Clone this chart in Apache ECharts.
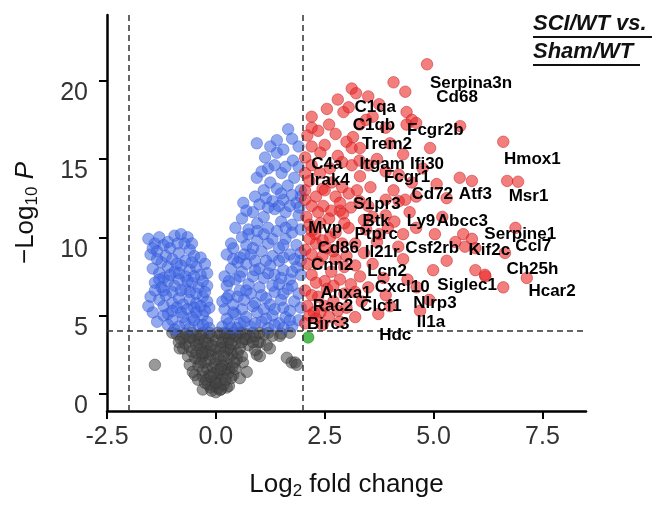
<!DOCTYPE html>
<html>
<head>
<meta charset="utf-8">
<script src="https://cdn.jsdelivr.net/npm/echarts@6/dist/echarts.min.js"></script>
<style>
  html, body { margin: 0; padding: 0; background: #fff; }
  #main { width: 662px; height: 505px; }
</style>
</head>
<body>
<div id="main"></div>
<script>
// volcano plot SCI/WT vs Sham/WT
const xTicks = [-2.5, 0, 2.5, 5, 7.5];
const yTicks = [0, 5, 10, 15, 20];
const fcCut = 2;     // log2 fold change cut
const pCut = 4;      // -log10 p cut

// not significant (grey)
const nsPoints = [
  [0, 0.1], [0.05, 0.35], [-0.05, 0.5], [0.1, 0.7], [-0.1, 0.8], [0.02, 1.0], [0.15, 1.1], [-0.15, 1.2],
  [0.2, 1.5], [-0.2, 1.6], [0.08, 1.3], [-0.08, 1.7], [0.25, 1.9], [-0.25, 2.0], [0.3, 2.3], [-0.3, 2.4],
  [0.12, 2.1], [-0.12, 2.5], [0.35, 2.8], [-0.35, 2.9], [0.45, 3.2], [-0.4, 3.3], [0.5, 3.6], [-0.45, 3.7],
  [0.2, 3.0], [-0.2, 3.2], [0.6, 3.9], [-0.55, 3.9], [0.4, 3.9], [-0.3, 3.9], [0.1, 3.8], [0.0, 3.4],
  [-0.05, 2.8], [0.05, 2.4], [-0.02, 1.9], [0.18, 3.5], [-0.18, 3.6], [0.28, 3.3], [-0.28, 3.0], [0.38, 2.5],
  [-0.38, 2.2], [0.22, 2.7], [-0.25, 2.6], [0.3, 1.6], [-0.3, 1.1], [0.4, 1.2], [0.25, 0.4], [-0.3, 0.27],
  [-0.48, 1.2], [-0.6, 1.85], [-0.64, 2.4], [-0.75, 2.9], [-0.83, 2.9], [-0.9, 3.8], [-0.64, 3.7], [-0.8, 3.5],
  [-0.7, 3.2], [-0.53, 1.4], [-0.41, 0.9], [-1.4, 1.85], [0.62, 2.0], [0.94, 2.5], [1.01, 3.3], [1.01, 2.4],
  [0.97, 3.3], [1.17, 3.1], [1.24, 2.9], [0.71, 1.4], [1.47, 3.7], [1.3, 3.7], [1.5, 3.85], [0.8, 3.6],
  [0.9, 2.8], [0.55, 1.0], [0.3, 0.5], [1.63, 2.3], [1.74, 2.0], [1.82, 2.0], [1.86, 1.85], [0.75, 3.1],
  [0.65, 3.5], [0.85, 3.9], [1.1, 3.8], [-0.5, 3.4], [-0.6, 3.0], [-0.45, 2.6], [0.48, 2.2], [0.55, 2.9],
  [0.12, 0.3], [-0.12, 0.4], [0.35, 1.0], [-0.22, 0.9], [0.15, 1.8], [-0.15, 2.2], [0.32, 3.7], [-0.38, 3.5],
  [-0.7, 3.85], [-1.0, 3.9], [0.7, 3.8], [1.2, 3.9], [1.7, 3.9], [0.05, 3.9], [-0.1, 3.7], [0.25, 3.85],
  [-0.1, 0.2], [0.1, 0.25], [0.18, 0.6], [-0.18, 0.6], [0.0, 0.7], [0.22, 0.9], [-0.25, 0.7], [0.05, 1.5],
  [-0.05, 1.3], [0.28, 1.3], [-0.3, 1.5], [0.38, 1.7], [-0.4, 1.8], [0.12, 1.6], [-0.12, 1.1], [0.45, 1.6],
  [-0.35, 2.0], [0.0, 2.2], [0.18, 2.4], [-0.18, 2.7], [0.42, 2.0], [-0.48, 2.3], [0.5, 2.6], [-0.55, 2.7],
  [0.28, 2.9], [-0.32, 2.6], [0.6, 2.4], [0.1, 2.9], [0.0, 3.0], [0.15, 3.3], [-0.1, 3.1], [0.3, 3.5],
  [-0.25, 3.4], [0.45, 3.7], [-0.45, 3.1], [0.6, 3.3], [-0.6, 3.6], [0.55, 3.9], [-0.15, 3.9], [0.7, 3.5],
  [-0.75, 3.6], [0.85, 3.3], [0.35, 3.2], [-0.35, 3.8], [0.9, 3.7], [1.0, 3.9], [-0.85, 3.3], [0.2, 3.9]
];

// p significant only (blue)
const pPoints = [
  // left arm
  [-1.55, 9.9], [-1.4, 9.6], [-1.3, 10.0], [-1.2, 9.5], [-0.95, 10.1], [-0.8, 10.2], [-0.65, 10.0], [-0.72, 9.6],
  [-1.05, 9.3], [-1.5, 8.9], [-1.35, 9.1], [-1.15, 8.8], [-1.0, 8.6], [-0.85, 9.0], [-0.6, 9.2], [-0.5, 8.8],
  [-0.7, 8.5], [-1.25, 8.4], [-1.45, 8.0], [-1.3, 7.7], [-1.1, 8.1], [-0.95, 7.8], [-0.8, 8.2], [-0.6, 7.9],
  [-0.45, 8.1], [-0.35, 7.6], [-0.7, 7.5], [-1.2, 7.4], [-0.25, 8.3], [-1.4, 7.1], [-1.25, 6.8], [-1.1, 7.2],
  [-0.95, 6.9], [-0.85, 7.3], [-0.7, 6.7], [-0.55, 7.1], [-0.4, 6.8], [-0.3, 7.2], [-0.2, 6.9], [-1.0, 6.5],
  [-0.6, 6.5], [-1.5, 6.2], [-1.3, 6.0], [-1.15, 6.3], [-1.0, 5.8], [-0.85, 6.1], [-0.75, 5.7], [-0.6, 6.0],
  [-0.45, 5.8], [-0.3, 6.2], [-0.2, 5.9], [-0.15, 5.5], [-0.9, 5.5], [-0.5, 5.5], [-1.35, 4.6], [-1.1, 5.1],
  [-1.0, 4.7], [-0.8, 5.2], [-0.7, 4.5], [-0.55, 4.9], [-0.4, 4.4], [-0.3, 5.0], [-0.2, 4.6], [-0.15, 4.2],
  [-0.6, 4.2], [-0.85, 4.3], [-1.2, 5.0], [-0.45, 5.2], [-1.55, 5.6],
  [-1.45, 9.3], [-1.1, 9.7], [-0.88, 9.6], [-0.55, 9.6], [-1.35, 8.6], [-0.9, 8.3], [-0.55, 8.4], [-0.35, 8.7],
  [-1.05, 7.6], [-0.85, 7.7], [-0.5, 7.5], [-0.2, 7.7], [-1.3, 7.3], [-0.65, 7.2], [-1.2, 6.6], [-0.8, 6.6],
  [-0.45, 6.4], [-0.25, 6.5], [-1.4, 6.6], [-1.2, 5.6], [-0.65, 5.4], [-0.35, 5.6], [-1.45, 5.2], [-1.0, 5.3],
  [-0.75, 4.9], [-0.5, 4.7], [-0.3, 4.4], [-1.1, 4.4], [-0.95, 4.1], [-0.25, 5.3],
  // right arm
  [0.15, 4.3], [0.25, 4.8], [0.35, 4.2], [0.45, 5.1], [0.55, 4.5], [0.7, 4.9], [0.8, 4.3], [0.95, 5.2],
  [1.05, 4.6], [1.2, 4.2], [1.3, 5.0], [1.45, 4.5], [1.6, 4.9], [1.75, 4.3], [1.9, 4.7], [0.2, 5.4],
  [0.6, 5.4], [1.1, 5.4], [1.55, 5.5], [0.15, 5.9], [0.3, 6.3], [0.4, 5.7], [0.55, 6.6], [0.65, 6.0],
  [0.8, 6.4], [0.9, 5.8], [1.0, 6.8], [1.15, 6.1], [1.25, 5.7], [1.35, 6.5], [1.5, 6.0], [1.65, 6.7],
  [1.8, 5.9], [1.9, 6.4], [0.25, 6.9], [0.75, 7.0], [1.45, 7.0], [0.2, 7.5], [0.35, 8.0], [0.45, 7.3],
  [0.6, 7.8], [0.7, 8.3], [0.85, 7.5], [1.0, 8.0], [1.1, 7.4], [1.25, 8.2], [1.35, 7.6], [1.55, 7.9],
  [1.7, 7.3], [1.85, 8.1], [1.95, 7.6], [0.5, 8.4], [1.45, 8.5], [0.25, 8.9], [0.4, 9.3], [0.55, 8.7],
  [0.7, 9.5], [0.8, 8.9], [0.95, 9.8], [1.05, 9.1], [1.2, 9.6], [1.3, 8.8], [1.45, 9.3], [1.6, 9.9],
  [1.7, 8.9], [1.85, 9.5], [1.95, 9.0], [0.6, 10.0], [1.1, 10.2], [1.75, 10.3], [0.45, 10.6], [0.6, 11.2],
  [0.75, 10.5], [0.85, 11.6], [0.95, 10.9], [1.1, 11.3], [1.2, 10.6], [1.35, 11.8], [1.5, 11.0], [1.6, 11.6],
  [1.75, 10.8], [1.9, 11.4], [1.3, 12.3], [0.63, 12.2], [1.0, 12.1], [1.55, 12.4], [1.85, 12.2], [0.94, 13.8],
  [1.1, 13.0], [1.25, 13.5], [1.51, 14.1], [1.4, 13.1], [1.65, 13.3], [1.8, 13.8], [1.95, 13.0], [1.13, 15.1],
  [1.4, 15.4], [1.77, 14.9], [0.94, 16.0], [1.4, 16.2], [1.66, 16.9], [1.9, 15.8], [1.2, 14.4], [1.9, 14.5],
  [1.95, 12.6], [1.95, 10.5], [1.92, 11.9], [1.95, 5.5], [1.95, 8.5],
  [0.3, 4.5], [0.5, 4.2], [0.65, 4.6], [0.9, 4.5], [1.15, 4.8], [1.35, 4.4], [1.55, 4.2], [1.7, 4.7],
  [0.4, 5.2], [0.85, 5.6], [1.35, 5.4], [1.7, 5.3], [0.25, 6.1], [0.5, 6.2], [0.7, 6.6], [1.05, 6.3],
  [1.3, 6.9], [1.55, 6.4], [1.75, 6.9], [0.3, 7.2], [0.55, 7.5], [0.9, 7.9], [1.2, 7.7], [1.5, 7.4],
  [1.75, 7.8], [0.4, 8.6], [0.65, 8.9], [0.9, 8.5], [1.15, 8.5], [1.55, 8.7], [1.8, 8.6], [0.35, 9.6],
  [0.85, 9.3], [1.3, 9.9], [1.55, 9.5], [0.75, 10.2], [0.95, 10.4], [1.4, 10.4], [1.6, 10.6], [0.7, 11.7],
  [1.2, 11.9], [1.45, 12.0], [1.7, 12.0], [0.9, 12.6], [1.15, 12.5], [1.5, 12.8], [1.75, 12.7], [1.05, 14.2],
  [1.35, 14.6], [1.6, 14.5], [1.25, 15.8], [1.55, 15.6], [1.75, 16.3]
];

// fold change only (green)
const fcPoints = [[2.12, 3.6]];

// p and fold change (red)
const bothPoints = [
  [4.85, 21.05], [4.08, 19.9], [4.35, 19.3], [3.12, 19.5], [3.22, 19.2], [3.5, 19.0], [2.93, 18.0], [3.05, 18.3],
  [2.2, 17.7], [2.2, 17.0], [3.6, 17.7], [4.38, 18.0], [4.5, 17.5], [4.38, 17.2], [4.6, 17.3], [3.3, 17.2],
  [3.45, 17.5], [5.61, 17.1], [2.2, 15.8], [2.5, 15.9], [3.0, 16.1], [3.12, 15.7], [3.31, 15.7], [3.15, 16.4],
  [4.92, 15.7], [6.6, 16.1], [6.69, 13.6], [6.94, 13.55], [5.6, 13.8], [5.88, 13.6], [5.07, 13.4], [2.62, 14.4],
  [3.12, 14.6], [3.5, 14.6], [3.31, 13.9], [2.05, 15.1], [2.05, 14.1], [2.39, 14.1], [2.05, 13.0], [2.66, 13.5],
  [3.24, 13.0], [4.08, 13.0], [4.35, 12.4], [3.7, 15.0], [3.9, 14.2], [2.8, 15.2], [2.9, 13.2], [3.55, 13.2],
  [4.2, 14.0], [4.5, 13.5], [2.05, 12.4], [2.3, 12.6], [2.47, 12.0], [2.85, 11.7], [2.92, 11.5], [2.08, 11.3],
  [2.6, 11.2], [3.1, 11.9], [3.3, 12.3], [3.9, 12.4], [2.28, 10.2], [2.62, 10.0], [2.05, 9.2], [2.3, 9.6],
  [2.45, 8.8], [2.1, 8.3], [2.75, 8.6], [3.0, 8.8], [3.2, 9.6], [3.45, 10.5], [3.05, 10.6], [2.2, 7.6],
  [2.5, 7.2], [2.85, 7.3], [3.1, 7.0], [3.31, 7.5], [2.05, 6.6], [2.35, 6.2], [2.7, 5.9], [2.1, 5.6],
  [2.4, 5.2], [3.0, 5.5], [3.35, 5.9], [2.05, 4.5], [2.3, 4.8], [3.73, 5.1], [4.69, 5.3], [4.61, 6.8],
  [4.99, 7.9], [5.96, 7.9], [6.19, 7.5], [6.6, 6.8], [6.18, 7.6], [7.14, 7.4], [4.3, 10.2], [5.03, 10.2],
  [5.68, 10.2], [5.88, 9.9], [5.72, 9.4], [5.96, 9.3], [4.19, 9.4], [6.88, 10.6], [6.64, 9.0], [3.9, 11.4],
  [4.1, 11.0], [3.6, 8.3], [3.9, 6.3], [3.5, 6.8], [4.3, 8.6], [4.6, 10.6], [2.15, 10.8], [2.4, 10.9],
  [2.75, 10.3], [2.55, 9.3], [2.9, 9.6], [2.2, 8.9], [2.65, 7.8], [2.95, 6.4], [3.2, 8.2], [2.55, 6.7],
  [2.25, 5.2], [2.6, 4.9], [2.8, 5.3], [3.5, 12.0], [3.75, 10.2], [2.45, 13.1], [2.75, 12.6], [2.2, 12.0],
  [3.6, 11.3], [4.45, 11.6], [3.4, 9.0],
  [2.1, 16.5], [2.35, 16.8], [2.6, 17.2], [2.75, 16.6], [2.4, 15.4], [2.9, 14.8], [3.3, 14.9], [2.2, 14.6],
  [2.5, 13.0], [2.15, 13.6], [2.85, 12.2], [3.05, 12.8], [2.35, 11.6], [2.65, 11.7], [2.2, 10.4], [2.95, 10.9],
  [2.45, 9.8], [2.7, 9.1], [2.15, 9.9], [2.35, 8.4], [2.95, 8.1], [2.3, 7.1], [2.7, 6.9], [2.2, 6.3],
  [3.2, 6.5], [2.5, 5.6], [2.15, 5.0], [2.45, 4.4], [3.2, 4.9], [2.85, 4.6], [3.4, 11.1], [3.7, 9.7],
  [3.95, 10.6], [4.2, 12.3], [4.6, 12.6], [3.85, 7.4], [4.4, 7.3], [4.0, 5.6], [4.9, 6.0], [5.3, 8.5],
  [5.5, 9.7], [5.2, 11.3], [4.75, 14.4], [5.3, 12.5], [3.9, 17.0], [4.0, 16.0], [4.3, 15.3], [2.55, 18.2],
  [2.8, 18.8], [3.75, 18.5]
];

// gene labels [name, x, y]
const geneLabels = [
  ['Serpina3n', 5.86, 19.86], ['Cd68', 5.54, 18.97], ['C1qa', 3.66, 18.28], ['C1qb', 3.63, 17.15],
  ['Fcgr2b', 5.04, 16.84], ['Trem2', 3.93, 15.95], ['C4a', 2.55, 14.63], ['Itgam', 3.82, 14.63],
  ['Ifi30', 4.85, 14.63], ['Hmox1', 7.27, 15.0], ['Irak4', 2.62, 13.62], ['Fcgr1', 4.39, 13.81],
  ['Cd72', 4.97, 12.74], ['Atf3', 5.96, 12.74], ['Msr1', 7.18, 12.61], ['S1pr3', 3.70, 12.13],
  ['Btk', 3.68, 10.99], ['Ly9', 4.71, 11.05], ['Abcc3', 5.66, 10.99], ['Mvp', 2.51, 10.60],
  ['Ptprc', 3.68, 10.16], ['Serpine1', 6.99, 10.22], ['Cd86', 2.81, 9.30], ['Il21r', 3.82, 9.05],
  ['Csf2rb', 4.97, 9.30], ['Kif2c', 6.28, 9.18], ['Ccl7', 7.29, 9.43], ['Cnn2', 2.67, 8.21],
  ['Lcn2', 3.93, 7.83], ['Ch25h', 7.27, 7.95], ['Anxa1', 2.99, 6.44], ['Cxcl10', 4.28, 6.82],
  ['Siglec1', 5.77, 6.95], ['Hcar2', 7.72, 6.57], ['Rac2', 2.69, 5.62], ['Clcf1', 3.79, 5.62],
  ['Nlrp3', 5.03, 5.75], ['Il1a', 4.94, 4.55], ['Birc3', 2.58, 4.43], ['Hdc', 4.12, 3.73]
];

const font = 'Liberation Sans, Arial, sans-serif';
const chart = echarts.init(document.getElementById('main'), null, { renderer: 'canvas' });

function dots(data, color, border) {
  return {
    type: 'scatter',
    data: data,
    symbolSize: 11.5,
    itemStyle: { color: color, borderColor: border, borderWidth: 1, opacity: 1 },
    emphasis: { disabled: true },
    silent: true
  };
}

const cutLine = { color: '#333', type: [6, 4], width: 1.5 };

const option = {
  animation: false,
  grid: { left: 107, top: 15, right: 76, bottom: 88 },
  xAxis: {
    type: 'value',
    min: -2.5, max: 8.5,
    name: '{t|Log}{s|2}{t| fold change}',
    nameLocation: 'middle',
    nameGap: 58,
    nameTextStyle: {
      rich: {
        t: { fontSize: 26, fontFamily: font, color: '#111' },
        s: { fontSize: 17, fontFamily: font, color: '#111', padding: [14, 0, 0, 0] }
      }
    },
    splitLine: { show: false },
    axisLine: { onZero: false, lineStyle: { color: '#000', width: 2.5 } },
    axisTick: { customValues: xTicks, length: 8, lineStyle: { color: '#000', width: 2 } },
    axisLabel: {
      customValues: xTicks,
      formatter: v => v.toFixed(1),
      fontSize: 25, fontFamily: font, color: '#333', margin: 14
    }
  },
  yAxis: {
    type: 'value',
    min: -1.1, max: 24.2,
    name: '{t|\u2212Log}{s|10}{p| P}',
    nameLocation: 'middle',
    nameRotate: 90,
    nameGap: 66,
    nameTextStyle: {
      rich: {
        t: { fontSize: 26, fontFamily: font, color: '#111' },
        s: { fontSize: 17, fontFamily: font, color: '#111', padding: [14, 0, 0, 0] },
        p: { fontSize: 26, fontFamily: font, color: '#111', fontStyle: 'italic' }
      }
    },
    splitLine: { show: false },
    axisLine: { onZero: false, lineStyle: { color: '#000', width: 2.5 } },
    axisTick: { customValues: yTicks, length: 8, lineStyle: { color: '#000', width: 2 } },
    axisLabel: {
      customValues: yTicks,
      fontSize: 25, fontFamily: font, color: '#333', margin: 19,
      verticalAlign: 'top'
    }
  },
  series: [
    Object.assign(dots(nsPoints, 'rgba(70,70,70,0.55)', 'rgba(50,50,50,0.45)'), {
      markLine: {
        silent: true, symbol: 'none', label: { show: false },
        lineStyle: cutLine,
        data: [{ xAxis: -fcCut }, { xAxis: fcCut }, { yAxis: pCut }]
      }
    }),
    dots(pPoints, 'rgba(60,100,225,0.55)', 'rgba(45,80,210,0.4)'),
    dots(fcPoints, 'rgba(40,170,40,0.8)', 'rgba(30,140,30,0.6)'),
    dots(bothPoints, 'rgba(235,40,40,0.6)', 'rgba(200,30,30,0.5)'),
    {
      type: 'scatter',
      data: geneLabels.map(g => ({ name: g[0], value: [g[1], g[2]] })),
      symbolSize: 0,
      silent: true,
      z: 5,
      itemStyle: { opacity: 1 },
      label: {
        show: true,
        position: 'inside',
        formatter: p => p.name,
        fontSize: 17, fontWeight: 'bold', fontFamily: font, color: '#000'
      }
    }
  ],
  graphic: [
    { type: 'text', left: 533, top: 13, style: { text: 'SCI/WT vs.', font: 'italic bold 22px ' + font, fill: '#111' } },
    { type: 'text', left: 533, top: 41, style: { text: 'Sham/WT', font: 'italic bold 22px ' + font, fill: '#111' } },
    { type: 'line', shape: { x1: 533, y1: 37, x2: 652, y2: 37 }, style: { stroke: '#111', lineWidth: 2 } },
    { type: 'line', shape: { x1: 533, y1: 65, x2: 640, y2: 65 }, style: { stroke: '#111', lineWidth: 2 } }
  ]
};

chart.setOption(option);
</script>
</body>
</html>
